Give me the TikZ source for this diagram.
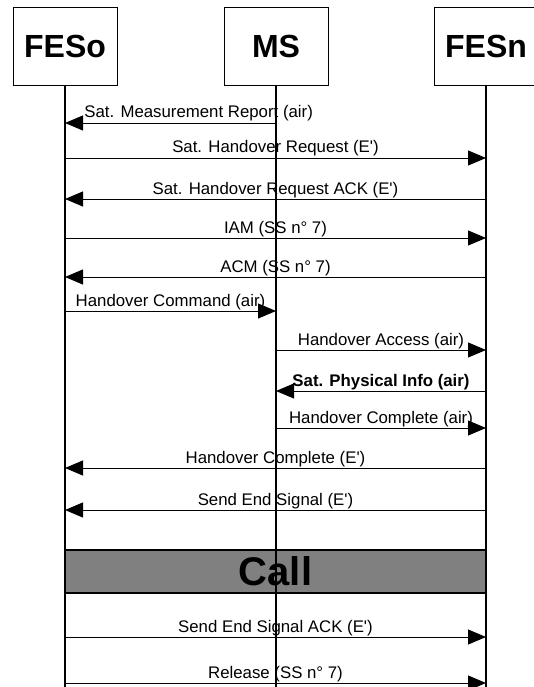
\documentclass[tikz,border=0pt]{standalone}
\usepackage{fontspec}
\setmainfont{Liberation Sans}
\usetikzlibrary{arrows.meta}

\tikzset{
  actor/.style={draw, line width=0.9pt, minimum width=104pt, minimum height=78pt,
    font=\fontsize{32}{38}\selectfont\bfseries},
  lifeline/.style={line width=1.2pt},
  msg/.style={line width=0.9pt, -{Triangle[length=18pt,width=15pt]}},
  lbl/.style={anchor=base, yshift=5pt, inner sep=0pt, font=\fontsize{16.8}{20}\selectfont},
  callbar/.style={draw, line width=1.5pt, fill=black!50, minimum width=421pt,
    minimum height=43pt, font=\fontsize{40}{48}\selectfont\bfseries}
}

\begin{document}
\begin{tikzpicture}[x=1pt, y=-1pt, >=stealth]
  \useasboundingbox (0,0) rectangle (533,687);

  % 实体
  \node[actor] (feso) at (65,46) {FESo};
  \node[actor] (ms) at (276,46) {MS};
  \node[actor] (fesn) at (486,46) {FESn};

  % 通话阶段
  \node[callbar] (call) at (275.5,571.5) {Call};

  % 生命线
  \coordinate (feso end) at (65,687);
  \coordinate (ms end) at (276,687);
  \coordinate (fesn end) at (486,687);

  \draw[lifeline] (feso.south) -- (feso end);
  \draw[lifeline] (ms.south) -- (ms end);
  \draw[lifeline] (fesn.south) -- (fesn end);

  % 切换信令
  \draw[msg] (ms |- 0,123) -- (feso |- 0,123)
    node[lbl, pos=1, anchor=base west, xshift=19pt] {Sat. Measurement Report (air)};
  \draw[msg] (feso |- 0,158) -- (fesn |- 0,158) node[lbl, midway] {Sat. Handover Request (E\textquotesingle)};
  \draw[msg] (fesn |- 0,199) -- (feso |- 0,199) node[lbl, midway] {Sat. Handover Request ACK (E\textquotesingle)};
  \draw[msg] (feso |- 0,238) -- (fesn |- 0,238) node[lbl, midway] {IAM (SS n° 7)};
  \draw[msg] (fesn |- 0,277) -- (feso |- 0,277) node[lbl, midway] {ACM (SS n° 7)};
  \draw[msg] (feso |- 0,311) -- (ms |- 0,311) node[lbl, midway] {Handover Command (air)};
  \draw[msg] (ms |- 0,350) -- (fesn |- 0,350) node[lbl, midway] {Handover Access (air)};
  \draw[msg] (fesn |- 0,391) -- (ms |- 0,391)
    node[lbl, midway, font=\fontsize{16.8}{20}\selectfont\bfseries] {Sat. Physical Info (air)};
  \draw[msg] (ms |- 0,428) -- (fesn |- 0,428) node[lbl, midway] {Handover Complete (air)};
  \draw[msg] (fesn |- 0,468) -- (feso |- 0,468) node[lbl, midway] {Handover Complete (E\textquotesingle)};
  \draw[msg] (fesn |- 0,510) -- (feso |- 0,510) node[lbl, midway] {Send End Signal (E\textquotesingle)};

  % 释放
  \draw[msg] (feso |- 0,637) -- (fesn |- 0,637) node[lbl, midway] {Send End Signal ACK (E\textquotesingle)};
  \draw[msg] (feso |- 0,683) -- (fesn |- 0,683) node[lbl, midway] {Release (SS n° 7)};
\end{tikzpicture}
\end{document}
